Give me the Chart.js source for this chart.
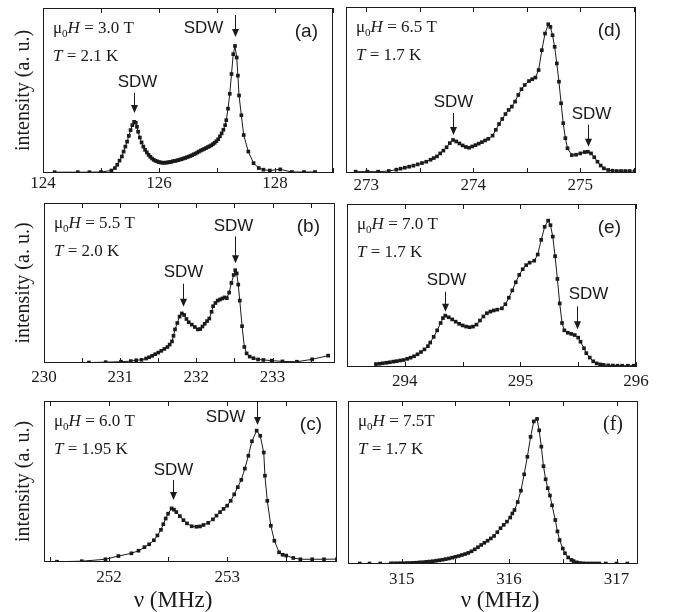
<!DOCTYPE html>
<html>
<head>
<meta charset="utf-8">
<script src="https://cdn.jsdelivr.net/npm/chart.js@4.4.1/dist/chart.umd.min.js"></script>
<style>
  html, body { margin: 0; padding: 0; background: #fff; }
  #fig { position: relative; width: 673px; height: 612px; overflow: hidden; background: #fff; }
  #fig canvas { position: absolute; }
</style>
</head>
<body>
<div id="fig"></div>
<script>
// ---- data (frequency in MHz, intensity in arbitrary units) ----
const aX = [124.2, 124.6, 124.8, 125.0, 125.18, 125.24, 125.28, 125.32, 125.36, 125.39, 125.42, 125.45, 125.48, 125.51, 125.54, 125.57, 125.60, 125.62, 125.64, 125.67, 125.70, 125.73, 125.76, 125.79, 125.82, 125.85, 125.88, 125.91, 125.94, 125.97, 126.00, 126.03, 126.06, 126.09, 126.12, 126.15, 126.18, 126.21, 126.24, 126.27, 126.30, 126.33, 126.36, 126.39, 126.42, 126.45, 126.48, 126.51, 126.54, 126.57, 126.60, 126.63, 126.66, 126.69, 126.72, 126.75, 126.78, 126.81, 126.84, 126.87, 126.90, 126.93, 126.96, 126.99, 127.02, 127.05, 127.08, 127.11, 127.14, 127.16, 127.19, 127.22, 127.25, 127.28, 127.31, 127.34, 127.36, 127.38, 127.42, 127.46, 127.54, 127.63, 127.72, 127.80, 127.91, 128.09, 128.29, 128.50, 128.69];
const aY = [0.005, 0.005, 0.005, 0.006, 0.015, 0.03, 0.05, 0.075, 0.10, 0.13, 0.16, 0.19, 0.225, 0.26, 0.29, 0.31, 0.305, 0.28, 0.25, 0.215, 0.185, 0.16, 0.14, 0.125, 0.11, 0.098, 0.088, 0.08, 0.074, 0.07, 0.066, 0.064, 0.062, 0.062, 0.063, 0.064, 0.066, 0.068, 0.071, 0.073, 0.075, 0.078, 0.081, 0.084, 0.088, 0.091, 0.095, 0.099, 0.103, 0.108, 0.113, 0.118, 0.124, 0.13, 0.136, 0.141, 0.146, 0.151, 0.157, 0.162, 0.168, 0.175, 0.183, 0.193, 0.205, 0.222, 0.24, 0.262, 0.29, 0.32, 0.39, 0.48, 0.60, 0.72, 0.77, 0.70, 0.59, 0.47, 0.35, 0.23, 0.13, 0.06, 0.03, 0.02, 0.015, 0.022, 0.006, 0.006, 0.006];

const bX = [230.59, 230.81, 231.01, 231.14, 231.21, 231.28, 231.34, 231.38, 231.42, 231.46, 231.50, 231.54, 231.58, 231.62, 231.65, 231.68, 231.70, 231.72, 231.75, 231.78, 231.81, 231.84, 231.87, 231.90, 231.94, 231.98, 232.02, 232.05, 232.08, 232.11, 232.14, 232.17, 232.20, 232.22, 232.25, 232.28, 232.31, 232.34, 232.37, 232.40, 232.43, 232.46, 232.49, 232.51, 232.53, 232.55, 232.57, 232.60, 232.63, 232.66, 232.70, 232.75, 232.81, 232.88, 232.99, 233.13, 233.32, 233.52, 233.73];
const bY = [0.003, 0.005, 0.008, 0.012, 0.017, 0.02, 0.028, 0.036, 0.045, 0.055, 0.065, 0.076, 0.088, 0.10, 0.115, 0.135, 0.17, 0.21, 0.25, 0.29, 0.31, 0.30, 0.275, 0.255, 0.24, 0.225, 0.21, 0.212, 0.228, 0.245, 0.262, 0.278, 0.32, 0.355, 0.375, 0.39, 0.397, 0.403, 0.41, 0.405, 0.44, 0.50, 0.55, 0.58, 0.56, 0.49, 0.39, 0.23, 0.10, 0.06, 0.04, 0.03, 0.022, 0.019, 0.015, 0.01, 0.008, 0.023, 0.046];

const cX = [251.56, 251.77, 251.97, 252.08, 252.19, 252.25, 252.30, 252.34, 252.38, 252.41, 252.44, 252.46, 252.48, 252.50, 252.53, 252.55, 252.57, 252.60, 252.63, 252.66, 252.70, 252.74, 252.77, 252.80, 252.84, 252.88, 252.91, 252.94, 252.97, 253.00, 253.03, 253.06, 253.09, 253.12, 253.15, 253.18, 253.21, 253.25, 253.28, 253.31, 253.32, 253.34, 253.37, 253.40, 253.44, 253.47, 253.50, 253.56, 253.62, 253.72, 253.82, 253.93];
const cY = [0.002, 0.005, 0.017, 0.037, 0.054, 0.07, 0.092, 0.11, 0.135, 0.165, 0.20, 0.235, 0.27, 0.30, 0.333, 0.325, 0.31, 0.285, 0.26, 0.24, 0.222, 0.219, 0.221, 0.23, 0.243, 0.265, 0.288, 0.31, 0.33, 0.35, 0.38, 0.42, 0.465, 0.51, 0.58, 0.66, 0.75, 0.816, 0.784, 0.68, 0.536, 0.38, 0.225, 0.132, 0.06, 0.045, 0.04, 0.025, 0.017, 0.017, 0.017, 0.018];

const dX = [272.90, 273.01, 273.11, 273.21, 273.28, 273.32, 273.36, 273.40, 273.44, 273.48, 273.52, 273.56, 273.60, 273.63, 273.66, 273.69, 273.72, 273.75, 273.78, 273.81, 273.84, 273.87, 273.90, 273.93, 273.96, 273.99, 274.02, 274.05, 274.08, 274.11, 274.14, 274.18, 274.21, 274.24, 274.27, 274.30, 274.33, 274.36, 274.39, 274.42, 274.45, 274.48, 274.52, 274.55, 274.58, 274.61, 274.64, 274.67, 274.70, 274.72, 274.74, 274.76, 274.78, 274.80, 274.82, 274.84, 274.86, 274.88, 274.92, 274.96, 275.00, 275.04, 275.07, 275.10, 275.13, 275.16, 275.19, 275.22, 275.26, 275.30, 275.34, 275.38, 275.42, 275.46, 275.51];
const dY = [0.008, 0.008, 0.008, 0.012, 0.02, 0.026, 0.032, 0.038, 0.044, 0.052, 0.06, 0.068, 0.08, 0.09, 0.10, 0.118, 0.135, 0.155, 0.18, 0.199, 0.19, 0.178, 0.166, 0.157, 0.152, 0.16, 0.168, 0.177, 0.186, 0.196, 0.206, 0.225, 0.26, 0.295, 0.325, 0.355, 0.38, 0.40, 0.43, 0.47, 0.505, 0.53, 0.554, 0.565, 0.575, 0.62, 0.74, 0.84, 0.896, 0.88, 0.83, 0.76, 0.66, 0.55, 0.42, 0.30, 0.21, 0.149, 0.108, 0.11, 0.118, 0.126, 0.128, 0.118, 0.095, 0.068, 0.045, 0.028, 0.018, 0.014, 0.012, 0.012, 0.012, 0.012, 0.012];

const eX = [293.75, 293.78, 293.81, 293.84, 293.87, 293.90, 293.93, 293.96, 293.99, 294.02, 294.05, 294.08, 294.11, 294.14, 294.17, 294.20, 294.22, 294.25, 294.28, 294.31, 294.33, 294.35, 294.38, 294.41, 294.44, 294.47, 294.50, 294.53, 294.56, 294.59, 294.62, 294.65, 294.68, 294.71, 294.74, 294.77, 294.80, 294.84, 294.87, 294.90, 294.93, 294.96, 294.99, 295.02, 295.05, 295.08, 295.12, 295.15, 295.18, 295.21, 295.24, 295.26, 295.28, 295.30, 295.32, 295.34, 295.36, 295.38, 295.41, 295.44, 295.47, 295.50, 295.52, 295.55, 295.57, 295.60, 295.63, 295.66, 295.69, 295.72, 295.76, 295.80, 295.84, 295.88, 295.93, 295.98];
const eY = [0.018, 0.02, 0.023, 0.026, 0.029, 0.033, 0.036, 0.04, 0.043, 0.05, 0.057, 0.066, 0.078, 0.092, 0.108, 0.128, 0.15, 0.185, 0.225, 0.27, 0.30, 0.315, 0.305, 0.292, 0.278, 0.265, 0.255, 0.248, 0.244, 0.248, 0.26, 0.285, 0.31, 0.33, 0.34, 0.347, 0.352, 0.36, 0.385, 0.425, 0.47, 0.52, 0.565, 0.60, 0.625, 0.64, 0.652, 0.69, 0.78, 0.86, 0.898, 0.87, 0.80, 0.68, 0.54, 0.39, 0.27, 0.225, 0.21, 0.203, 0.196, 0.18, 0.155, 0.115, 0.085, 0.058, 0.035, 0.022, 0.016, 0.013, 0.01, 0.009, 0.008, 0.008, 0.008, 0.008];

const fX = [314.61, 314.70, 314.80, 314.90, 314.93, 314.96, 314.99, 315.02, 315.05, 315.08, 315.11, 315.14, 315.17, 315.20, 315.23, 315.26, 315.29, 315.32, 315.35, 315.38, 315.41, 315.44, 315.47, 315.50, 315.53, 315.56, 315.59, 315.62, 315.65, 315.68, 315.71, 315.74, 315.77, 315.80, 315.83, 315.86, 315.89, 315.92, 315.95, 315.98, 316.01, 316.03, 316.05, 316.08, 316.11, 316.14, 316.17, 316.20, 316.23, 316.26, 316.28, 316.30, 316.32, 316.34, 316.36, 316.38, 316.40, 316.43, 316.45, 316.47, 316.50, 316.52, 316.55, 316.58, 316.60, 316.63, 316.66, 316.69, 316.72, 316.75, 316.78, 316.81, 316.84, 316.90, 317.00, 317.10];
const fY = [0.003, 0.003, 0.003, 0.004, 0.004, 0.004, 0.005, 0.005, 0.006, 0.006, 0.007, 0.008, 0.01, 0.011, 0.013, 0.015, 0.017, 0.02, 0.023, 0.026, 0.03, 0.034, 0.039, 0.044, 0.049, 0.055, 0.061, 0.068, 0.078, 0.09, 0.103, 0.117, 0.13, 0.143, 0.157, 0.172, 0.195, 0.22, 0.24, 0.26, 0.285, 0.31, 0.331, 0.38, 0.45, 0.55, 0.658, 0.78, 0.875, 0.89, 0.82, 0.72, 0.60, 0.52, 0.465, 0.42, 0.36, 0.27, 0.20, 0.147, 0.095, 0.066, 0.04, 0.025, 0.018, 0.01, 0.006, 0.004, 0.003, 0.003, 0.003, 0.003, 0.003, 0.003, 0.003, 0.003];

const fields = ['3.0 T', '5.5 T', '6.0 T', '6.5 T', '7.0 T', '7.5T'];
const temps = ['2.1 K', '2.0 K', '1.95 K', '1.7 K', '1.7 K', '1.7 K'];
const tags = ['(a)', '(b)', '(c)', '(d)', '(e)', '(f)'];

const SERIF = '"Liberation Serif", "Times New Roman", serif';
const SANS = '"Liberation Sans", Arial, sans-serif';
const INK = '#1a1a1a';

Chart.defaults.font.family = SERIF;
Chart.defaults.color = INK;

// box = plot frame [left, top, right, bottom] in page pixels
// arrows: [x value, tip y value, length px, text dx, text dy from arrow top]
const panels = [
  { xs: aX, ys: aY, box: [43, 8, 333, 173], min: 124, max: 129, step: 1, every: 2, pad: 0, left: true,
    arrows: [[125.57, 0.364, 20, 3, -6], [127.31, 0.824, 22, -32, 18]] },
  { xs: bX, ys: bY, box: [44, 203, 335, 363], min: 230, max: 233.82, step: 0.5, every: 1, pad: 4, left: true,
    arrows: [[231.83, 0.352, 23, 0, -7], [232.51, 0.623, 27, -2, -5]] },
  { xs: cX, ys: cY, box: [44, 401, 337, 562], min: 251.45, max: 253.93, step: 0.5, every: 1, pad: 5, left: true, bottom: true, titleX: 173,
    arrows: [[252.54, 0.385, 20, 0, -5], [253.25, 0.851, 24, -32, 21]] },
  { xs: dX, ys: dY, box: [346, 7, 636, 173], min: 272.81, max: 275.52, step: 0.5, every: 1, pad: 2,
    arrows: [[273.81, 0.229, 22, 0, -6], [275.07, 0.158, 22, 3, -6]] },
  { xs: eX, ys: eY, box: [347, 204, 636, 367], min: 293.5, max: 296, step: 0.5, every: 1, pad: 4,
    arrows: [[294.35, 0.339, 20, 1, -7], [295.49, 0.231, 23, 11, -7]] },
  { xs: fX, ys: fY, box: [348, 401, 638, 564], min: 314.5, max: 317.2, step: 0.5, every: 1, pad: 5, bottom: true, titleX: 500, serifTag: true,
    arrows: [] }
];

function decor(p, i) {
  return {
    id: 'decor' + i,
    afterDatasetsDraw(chart) {
      const { ctx, chartArea: ca, scales } = chart;
      const xs = scales.x, ys = scales.y;
      ctx.save();
      ctx.strokeStyle = INK;
      ctx.fillStyle = INK;
      ctx.lineWidth = 1;
      ctx.strokeRect(ca.left + 0.5, ca.top + 0.5, ca.right - ca.left - 1, ca.bottom - ca.top - 1);

      // inward tick marks, bottom and top
      ctx.beginPath();
      xs.ticks.forEach(t => {
        const px = Math.round(xs.getPixelForValue(t.value)) + 0.5;
        ctx.moveTo(px, ca.bottom); ctx.lineTo(px, ca.bottom - 5);
        ctx.moveTo(px, ca.top); ctx.lineTo(px, ca.top + 5);
      });
      ctx.stroke();

      // field and temperature
      ctx.textAlign = 'left';
      ctx.textBaseline = 'alphabetic';
      let x = ca.left + 10, y = ca.top + 25;
      ctx.font = '17px ' + SERIF;
      ctx.fillText('\u03bc', x, y); x += ctx.measureText('\u03bc').width;
      ctx.font = '11px ' + SERIF;
      ctx.fillText('0', x, y + 4); x += ctx.measureText('0').width;
      ctx.font = 'italic 17px ' + SERIF;
      ctx.fillText('H', x, y); x += ctx.measureText('H').width;
      ctx.font = '17px ' + SERIF;
      ctx.fillText(' = ' + fields[i], x, y);

      x = ca.left + 10; y = ca.top + 53;
      ctx.font = 'italic 17px ' + SERIF;
      ctx.fillText('T', x, y); x += ctx.measureText('T').width;
      ctx.font = '17px ' + SERIF;
      ctx.fillText(' = ' + temps[i], x, y);

      // panel tag
      ctx.textAlign = 'right';
      ctx.font = p.serifTag ? '20px ' + SERIF : '19px ' + SANS;
      ctx.fillText(tags[i], ca.right - 15, ca.top + 29);

      // SDW arrows
      ctx.textAlign = 'center';
      ctx.font = '17px ' + SANS;
      p.arrows.forEach(([xv, tipv, len, dx, dy]) => {
        const px = Math.round(xs.getPixelForValue(xv)) + 0.5;
        const tip = ys.getPixelForValue(tipv);
        const top = tip - len;
        ctx.beginPath();
        ctx.moveTo(px, top); ctx.lineTo(px, tip - 6);
        ctx.stroke();
        ctx.beginPath();
        ctx.moveTo(px - 3.5, tip - 8); ctx.lineTo(px + 3.5, tip - 8); ctx.lineTo(px, tip);
        ctx.closePath();
        ctx.fill();
        ctx.fillText('SDW', px + dx, top + dy);
      });

      // frequency axis title (page coordinates shifted into this canvas)
      if (p.bottom) {
        ctx.textAlign = 'center';
        ctx.font = '23px ' + SERIF;
        ctx.fillText('\u03bd (MHz)', p.titleX - p.cl, 607 - p.ct);
      }
      ctx.restore();
    }
  };
}

const fig = document.getElementById('fig');
panels.forEach((p, i) => {
  const [l, t, r, b] = p.box;
  const padL = p.left ? 0 : 24, padR = 24, padT = 4;
  const axisH = p.bottom ? 612 - b : 26;
  const cl = p.left ? 0 : l - padL;
  const cw = r - cl + padR;
  const ct = t - padT;
  const ch = b - ct + axisH;
  p.cl = cl; p.ct = ct;
  const cv = document.createElement('canvas');
  cv.width = cw; cv.height = ch;
  cv.style.left = cl + 'px'; cv.style.top = ct + 'px';
  cv.style.width = cw + 'px'; cv.style.height = ch + 'px';
  fig.appendChild(cv);

  const yScale = {
    min: 0,
    max: 1,
    display: !!p.left,
    grid: { display: false },
    border: { display: false },
    ticks: { display: false },
    title: { display: true, text: 'intensity (a. u.)', font: { size: 20 }, padding: { top: 12, bottom: 0 }, color: INK }
  };
  if (p.left) yScale.afterFit = s => { s.width = l; };

  new Chart(cv.getContext('2d'), {
    type: 'scatter',
    data: {
      datasets: [{
        data: p.xs.map((v, k) => ({ x: v, y: p.ys[k] })),
        showLine: true,
        borderColor: INK,
        borderWidth: 1,
        pointStyle: 'rect',
        pointRadius: 2.6,
        pointBackgroundColor: INK,
        pointBorderWidth: 0,
        tension: 0
      }]
    },
    options: {
      responsive: false,
      animation: false,
      events: [],
      layout: { padding: { left: padL, right: padR, top: padT, bottom: 0 } },
      plugins: { legend: { display: false }, tooltip: { enabled: false } },
      scales: {
        x: {
          type: 'linear',
          position: 'bottom',
          min: p.min,
          max: p.max,
          afterFit: s => { s.height = axisH; },
          grid: { display: false, drawTicks: false },
          border: { display: false },
          ticks: {
            stepSize: p.step,
            includeBounds: false,
            autoSkip: false,
            maxRotation: 0,
            padding: p.pad,
            font: { size: 17 },
            color: INK,
            callback: v => {
              const q = v / p.every;
              return Math.abs(q - Math.round(q)) < 1e-6 ? String(Math.round(v)) : '';
            }
          }
        },
        y: yScale
      }
    },
    plugins: [decor(p, i)]
  });
});
</script>
</body>
</html>
